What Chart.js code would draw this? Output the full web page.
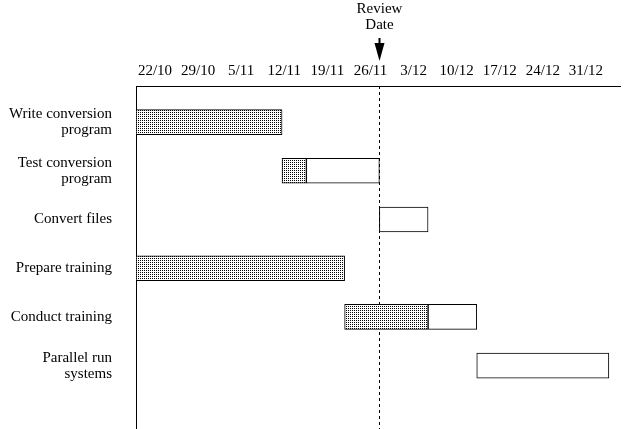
<!DOCTYPE html>
<html>
<head>
<meta charset="utf-8">
<script src="https://cdn.jsdelivr.net/npm/chart.js@4.4.1/dist/chart.umd.min.js"></script>
<style>
  html, body { margin: 0; padding: 0; background: #fff; }
  #wrap { width: 624px; height: 429px; }
</style>
</head>
<body>
<div id="wrap"><canvas id="gantt" width="624" height="429"></canvas></div>
<script>
// week labels along the top, task names down the side
const weekLabels = ['22/10', '29/10', '5/11', '12/11', '19/11', '26/11', '3/12', '10/12', '17/12', '24/12', '31/12'];
const taskNames = [
  ['Write conversion', 'program'],
  ['Test conversion', 'program'],
  'Convert files',
  'Prepare training',
  'Conduct training',
  ['Parallel run', 'systems']
];
// days counted from 22/10
const taskStart = [0, 21, 35, 0, 30, 49];
const taskDoneTo = [21, 24.5, 35, 30, 42, 49];
const taskEnd = [21, 35, 42, 30, 49, 68];
const reviewDay = 35;

const FONT = "'Liberation Serif', 'Times New Roman', serif";

// stippled fill for the completed part of a task
function stipple() {
  const pc = document.createElement('canvas');
  pc.width = 2; pc.height = 2;
  const pctx = pc.getContext('2d');
  pctx.fillStyle = '#fff';
  pctx.fillRect(0, 0, 2, 2);
  pctx.fillStyle = '#000';
  pctx.fillRect(0, 0, 1, 1);
  return pctx.createPattern(pc, 'repeat');
}

const doneData = [];
const todoData = [];
taskNames.forEach((_, i) => {
  if (taskDoneTo[i] > taskStart[i]) doneData.push({ x: [taskStart[i], taskDoneTo[i]], y: i });
  if (taskEnd[i] > taskDoneTo[i]) todoData.push({ x: [taskDoneTo[i], taskEnd[i]], y: i });
});

// dashed review line + arrow and caption above the axis
const reviewMarker = {
  id: 'reviewMarker',
  beforeDatasetsDraw(chart) {
    const { ctx, chartArea } = chart;
    const x = Math.round(chart.scales.x.getPixelForValue(reviewDay)) + 0.5;
    ctx.save();
    ctx.strokeStyle = '#000';
    ctx.lineWidth = 1;
    ctx.setLineDash([3, 3]);
    ctx.beginPath();
    ctx.moveTo(x, chartArea.top);
    ctx.lineTo(x, chartArea.bottom);
    ctx.stroke();
    ctx.restore();
  },
  afterDraw(chart) {
    const { ctx, chartArea } = chart;
    const x = Math.round(chart.scales.x.getPixelForValue(reviewDay)) + 0.5;
    const top = chartArea.top;
    ctx.save();
    ctx.fillStyle = '#000';
    ctx.strokeStyle = '#000';
    ctx.lineWidth = 2;
    ctx.beginPath();
    ctx.moveTo(x, top - 48);
    ctx.lineTo(x, top - 40);
    ctx.stroke();
    ctx.beginPath();
    ctx.moveTo(x - 5, top - 43);
    ctx.lineTo(x + 5, top - 43);
    ctx.lineTo(x, top - 25);
    ctx.closePath();
    ctx.fill();
    ctx.font = '15px ' + FONT;
    ctx.textAlign = 'center';
    ctx.textBaseline = 'middle';
    ctx.fillText('Review', x, 9);
    ctx.fillText('Date', x, 25);
    ctx.restore();
  }
};

new Chart(document.getElementById('gantt'), {
  type: 'bar',
  data: {
    datasets: [
      { data: doneData, backgroundColor: stipple() },
      { data: todoData, backgroundColor: '#fff' }
    ]
  },
  options: {
    responsive: false,
    animation: false,
    indexAxis: 'y',
    layout: { padding: { top: 0, right: 4, bottom: 0, left: 0 } },
    datasets: {
      bar: {
        grouped: false,
        barThickness: 25,
        borderColor: '#000',
        borderWidth: 1,
        borderSkipped: false
      }
    },
    plugins: {
      legend: { display: false },
      tooltip: { enabled: false }
    },
    scales: {
      x: { type: 'linear', min: 0, max: 69.6, display: false },
      xt: {
        type: 'linear',
        axis: 'x',
        position: 'top',
        min: -0.44,
        max: 10.79,
        grid: { display: false, drawTicks: false },
        border: { display: true, color: '#000', width: 1 },
        ticks: {
          color: '#000',
          font: { family: FONT, size: 15 },
          padding: 6,
          maxRotation: 0,
          autoSkip: false,
          callback: v => weekLabels[v]
        },
        afterBuildTicks: s => { s.ticks = weekLabels.map((_, i) => ({ value: i })); },
        afterFit: s => { s.height = 86; s.paddingLeft = 0; s.paddingRight = 0; }
      },
      y: {
        type: 'linear',
        reverse: true,
        offset: false,
        min: -0.74,
        max: 6.30,
        grid: { display: false, drawTicks: false, offset: false },
        border: { display: true, color: '#000', width: 1 },
        ticks: {
          color: '#000',
          font: { family: FONT, size: 15, lineHeight: 1.07 },
          padding: 24,
          autoSkip: false,
          callback: v => taskNames[v]
        },
        afterBuildTicks: s => { s.ticks = taskNames.map((_, i) => ({ value: i })); },
        afterFit: s => { s.width = 136; s.paddingTop = 0; s.paddingBottom = 0; }
      }
    }
  },
  plugins: [reviewMarker]
});
</script>
</body>
</html>
